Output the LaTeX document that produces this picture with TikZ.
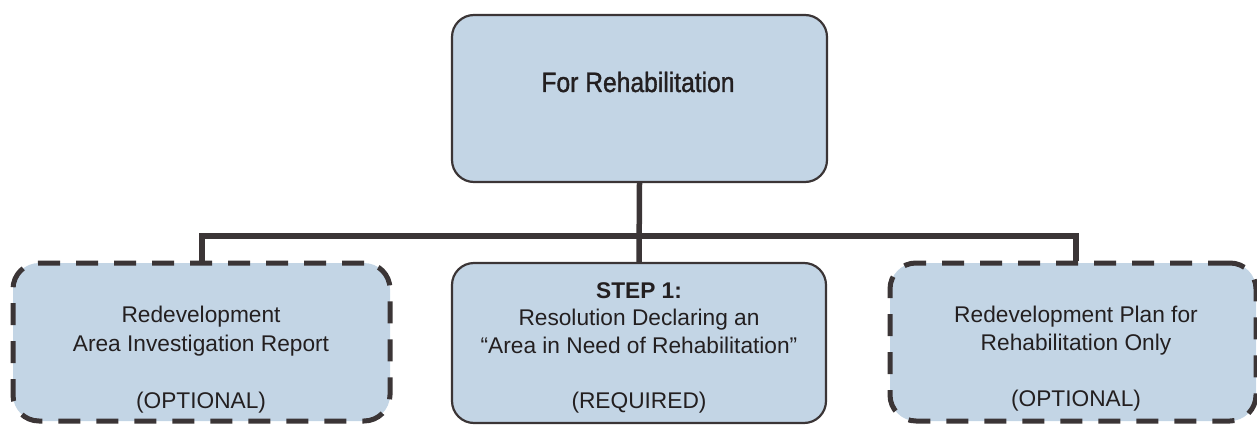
\documentclass[tikz,border=0pt]{standalone}
\usepackage{fontspec}
\setmainfont{Liberation Sans}
\newfontfamily\narrowfont{Liberation Sans}[FakeStretch=0.88,FakeBold=1.2]
\definecolor{boxfill}{HTML}{C3D5E5}
\definecolor{lineclr}{HTML}{3B3536}
\definecolor{txtclr}{HTML}{231F20}
\tikzset{
  solidbox/.style={draw=lineclr, line width=2.2pt, fill=boxfill, rounded corners=22pt, inner sep=0pt},
  dashbox/.style={draw=lineclr, line width=5pt, fill=boxfill, rounded corners=26pt, inner sep=0pt, dash pattern=on 22pt off 16pt},
  wire/.style={draw=lineclr, line width=5.5pt},
  txt/.style={anchor=base, inner sep=0pt, text=txtclr, font=\fontsize{22.7}{28}\selectfont}
}
\begin{document}
\begin{tikzpicture}[x=1pt,y=-1pt]
\useasboundingbox (0,0) rectangle (1257,425);
% boxes
\node[solidbox, minimum width=375pt, minimum height=167pt] (top) at (639.5,98.5) {};
\node[dashbox, minimum width=377pt, minimum height=158pt] (left) at (201.5,342) {};
\node[solidbox, minimum width=374pt, minimum height=160pt] (mid) at (639,343) {};
\node[dashbox, minimum width=366pt, minimum height=158pt] (right) at (1073,342) {};
% connectors
\coordinate (busL) at (202,236);
\coordinate (busR) at (1076,236);
\draw[wire] (top.south) -- (mid.north);
\draw[wire, line cap=rect] (busL) -- (busR);
\draw[wire] (busL) -- (busL |- left.north);
\draw[wire] (busR) -- (busR |- right.north);
% texts
\node[txt, font=\fontsize{28}{32}\narrowfont] (ttop) at (638,92) {For Rehabilitation};
\node[txt] (l1) at (201,322) {Redevelopment};
\node[txt] (l2) at (201,351) {Area Investigation Report};
\node[txt] (l3) at (201,408) {(OPTIONAL)};
\node[txt, font=\fontsize{22.7}{28}\selectfont\bfseries] (m1) at (639,298) {STEP 1:};
\node[txt] (m2) at (639,325) {Resolution Declaring an};
\node[txt] (m3) at (639,353) {“Area in Need of Rehabilitation”};
\node[txt] (m4) at (639,408) {(REQUIRED)};
\node[txt] (r1) at (1076,322) {Redevelopment Plan for};
\node[txt] (r2) at (1076,350) {Rehabilitation Only};
\node[txt] (r3) at (1076,406) {(OPTIONAL)};
\end{tikzpicture}
\end{document}
